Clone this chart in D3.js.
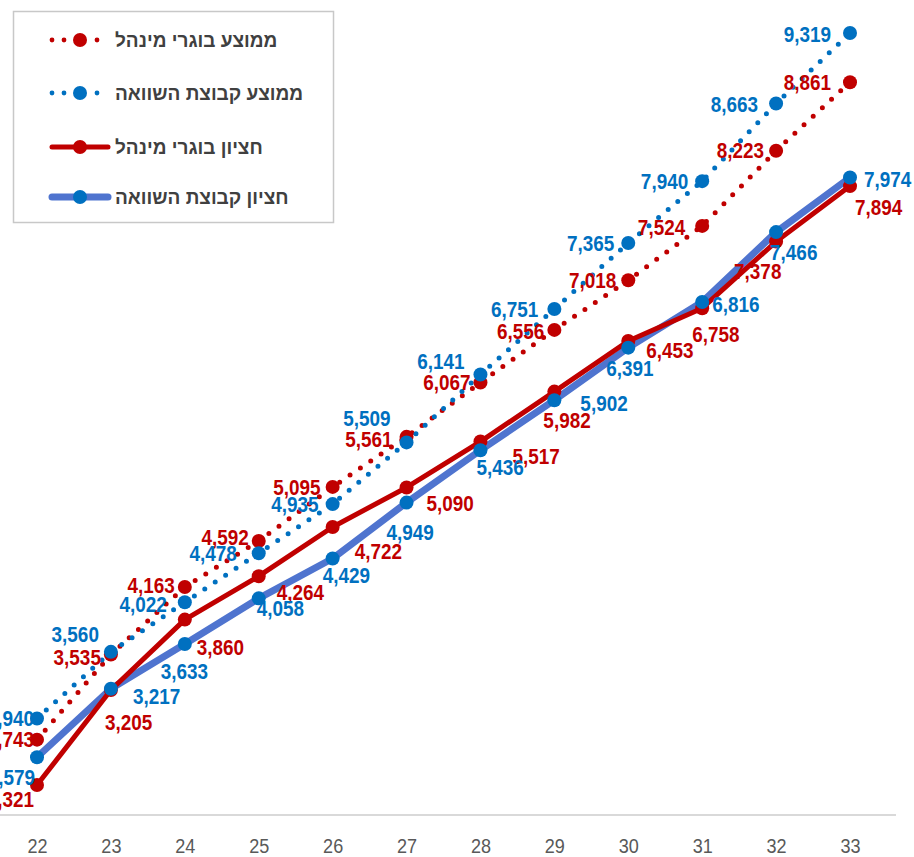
<!DOCTYPE html>
<html><head><meta charset="utf-8">
<script src="https://cdn.jsdelivr.net/npm/d3@7"></script>
<style>body{margin:0;background:#fff}svg{display:block}</style>
</head><body>
<svg id="c" width="914" height="857"></svg>
<script>
const categories = ["22","23","24","25","26","27","28","29","30","31","32","33"];
const seriesNames = ["ממוצע בוגרי מינהל","ממוצע קבוצת השוואה","חציון בוגרי מינהל","חציון קבוצת השוואה"];
const meanGrads   = [2743,3535,4163,4592,5095,5561,6067,6556,7018,7524,8223,8861];
const meanCompare = [2940,3560,4022,4478,4935,5509,6141,6751,7365,7940,8663,9319];
const medGrads    = [2321,3205,3860,4264,4722,5090,5517,5982,6453,6758,7378,7894];
const medCompare  = [2579,3217,3633,4058,4429,4949,5436,5902,6391,6816,7466,7974];

// label offsets (layout config): [dx, dy, anchor]
const offMeanGrads = [[-3,0,"end"],[-10,3,"end"],[-10,-2,"end"],[-10,-4,"end"],[-12,0,"end"],[-14,2,"end"],[-10,0,"end"],[-10,1,"end"],[-12,0,"end"],[-17,1,"end"],[-12,0,"end"],[-19,0,"end"]];
const offMeanCompare = [[-3,0,"end"],[-12,-18,"end"],[-18,2,"end"],[-22,0,"end"],[-14,0,"end"],[-16,-24,"end"],[-16,-13,"end"],[-16,0,"end"],[-14,0,"end"],[-14,0,"end"],[-18,1,"end"],[-19,1,"end"]];
const offMedGrads = [[-3,14,"end"],[-6,32,"start"],[12,28,"start"],[18,16,"start"],[22,24,"start"],[20,16,"start"],[32,15,"start"],[-11,29,"start"],[18,9,"start"],[-10,26,"start"],[-42,30,"start"],[5,21,"start"]];
const offMedCompare = [[-2,20,"end"],[22,8,"start"],[-24,27,"start"],[-2,10,"start"],[-10,17,"start"],[-20,30,"start"],[-4,17,"start"],[26,3,"start"],[-22,21,"start"],[10,2,"start"],[-6,20,"start"],[14,2,"start"]];

const RED = "#C00000", BLUE = "#0070C0", BLUE_LINE = "#4F74CF";
const svg = d3.select("#c");
const x = d3.scalePoint().domain(categories).range([37, 850]);
const y = d3.scaleLinear().domain([2000, 10000]).range([819.5, -40.2]);

// x axis
svg.append("line").attr("x1",0).attr("x2",896).attr("y1",815).attr("y2",815).attr("stroke","#d9d9d9").attr("stroke-width",2);
const xAxis = d3.axisBottom(x).tickSize(0).tickPadding(0);
const gx = svg.append("g").attr("transform","translate(0,815)").call(xAxis);
gx.select(".domain").remove();
gx.selectAll(".tick text").attr("y",0).attr("dy",0)
  .attr("transform","translate(0,38) scale(0.86,1)")
  .attr("fill","#595959").style("font-family","'Liberation Sans',Arial,sans-serif").style("font-size","21px");

const series = [
  {name:seriesNames[0], vals:meanGrads, color:RED, line:RED, dotted:true, off:offMeanGrads},
  {name:seriesNames[1], vals:meanCompare, color:BLUE, line:BLUE, dotted:true, off:offMeanCompare},
  {name:seriesNames[2], vals:medGrads, color:RED, line:RED, dotted:false, off:offMedGrads},
  {name:seriesNames[3], vals:medCompare, color:BLUE, line:BLUE_LINE, dotted:false, off:offMedCompare}
];
const line = d3.line().x((d,i)=>x(categories[i])).y(d=>y(d));

// lines
[series[3], series[2], series[0], series[1]].forEach(s=>{
  const p = svg.append("path").attr("d", line(s.vals)).attr("fill","none").attr("stroke", s.line);
  if (s.dotted) p.attr("stroke-width",5).attr("stroke-linecap","round").attr("stroke-dasharray","0 12.5");
  else p.attr("stroke-width", s===series[3]?7:5).attr("stroke-linejoin","round");
});
// markers
[series[2], series[3], series[0], series[1]].forEach(s=>{
  svg.append("g").selectAll("circle").data(s.vals).join("circle")
    .attr("cx",(d,i)=>x(categories[i])).attr("cy",d=>y(d)).attr("r",7).attr("fill",s.color);
});
// labels
const fmt = d3.format(",");
const SX = 0.86;
series.forEach(s=>{
  svg.append("g").selectAll("text").data(s.vals).join("text")
    .attr("transform",(d,i)=>`translate(${x(categories[i]) + s.off[i][0]},${y(d) + s.off[i][1]}) scale(${SX},1)`)
    .attr("dy","0.35em")
    .attr("text-anchor",(d,i)=>s.off[i][2])
    .attr("fill", s.color)
    .style("font-family","'Liberation Sans',Arial,sans-serif")
    .style("font-weight","bold").style("font-size","22px")
    .text(d=>fmt(d));
});

// legend
const lg = svg.append("g");
lg.append("rect").attr("x",13.5).attr("y",11.5).attr("width",320).attr("height",211).attr("fill","#fff").attr("stroke","#c8c8c8").attr("stroke-width",1.5);
const ly = [40, 93, 147, 197];
series.forEach((s,i)=>{
  const g = lg.append("g").attr("transform",`translate(0,${ly[i]})`);
  if (s.dotted) {
    [52,64,97].forEach(cx=>g.append("circle").attr("cx",cx).attr("cy",0).attr("r",2.4).attr("fill",s.color));
  } else {
    g.append("line").attr("x1",52).attr("x2",108).attr("y1",0).attr("y2",0).attr("stroke",s.line).attr("stroke-width",i===3?7:5).attr("stroke-linecap","round");
  }
  g.append("circle").attr("cx",80).attr("cy",0).attr("r",7).attr("fill",s.color);
  g.append("text").attr("x",115).attr("y",0).attr("dy","0.35em").attr("text-anchor","start")
    .attr("fill","#404040").style("font-family","'Liberation Sans',Arial,sans-serif")
    .style("font-weight","bold").style("font-size","19px").text(s.name);
});
</script>
</body></html>
